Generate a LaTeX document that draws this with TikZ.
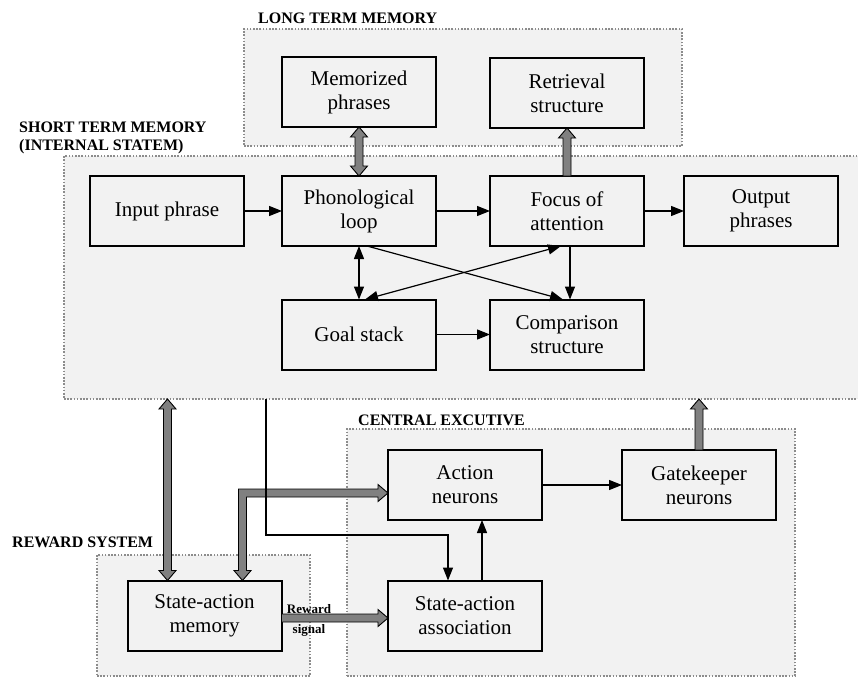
\documentclass[tikz,border=0pt]{standalone}
\usepackage{fontspec}
\setmainfont{Liberation Serif}
\usetikzlibrary{arrows.meta,calc,fit}
\definecolor{regfill}{RGB}{242,242,242}
\definecolor{regline}{RGB}{140,140,140}
\definecolor{fatgray}{RGB}{128,128,128}
\tikzset{
 region/.style={draw=regline, fill=regfill, line width=1.6pt, dash pattern=on 1.6pt off 1.6pt, inner sep=0pt, outer sep=0pt},
 box/.style={draw, fill=regfill, line width=2pt, minimum width=154pt, minimum height=70pt, align=center, font=\fontsize{21}{24}\selectfont, inner sep=0pt, outer sep=0pt},
 lbl/.style={font=\fontsize{16}{18}\selectfont\bfseries, anchor=base west, inner sep=0pt},
 rlbl/.style={font=\fontsize{13}{15}\selectfont\bfseries, anchor=base, inner sep=0pt},
 conn/.style={line width=1.2pt, -{Triangle[length=13pt,width=10pt]}},
 dconn/.style={line width=1.2pt, {Triangle[length=13pt,width=10pt]}-{Triangle[length=13pt,width=10pt]}},
 fat/.style={draw=black, fill=fatgray, line width=0.9pt, line join=miter},
}
% vertical double fat arrow: #1 upper point, #2 lower point
\newcommand{\fatvd}[2]{\draw[fat] let \p1=(#1), \p2=(#2) in
  (\x1,\y1) -- (\x1+8.5pt,\y1-10pt) -- (\x1+4pt,\y1-10pt) -- (\x1+4pt,\y2+10pt) -- (\x1+8.5pt,\y2+10pt)
  -- (\x1,\y2) -- (\x1-8.5pt,\y2+10pt) -- (\x1-4pt,\y2+10pt) -- (\x1-4pt,\y1-10pt) -- (\x1-8.5pt,\y1-10pt) -- cycle;}
% vertical single fat arrow: #1 lower start, #2 upper tip
\newcommand{\fatvu}[2]{\draw[fat] let \p1=(#1), \p2=(#2) in
  (\x2,\y2) -- (\x2+8.5pt,\y2-10pt) -- (\x2+4pt,\y2-10pt) -- (\x2+4pt,\y1) -- (\x2-4pt,\y1)
  -- (\x2-4pt,\y2-10pt) -- (\x2-8.5pt,\y2-10pt) -- cycle;}
% horizontal single fat arrow: #1 left start, #2 right tip
\newcommand{\fathr}[2]{\draw[fat] let \p1=(#1), \p2=(#2) in
  (\x2,\y2) -- (\x2-10pt,\y2+8.5pt) -- (\x2-10pt,\y2+4pt) -- (\x1,\y2+4pt) -- (\x1,\y2-4pt)
  -- (\x2-10pt,\y2-4pt) -- (\x2-10pt,\y2-8.5pt) -- cycle;}
\begin{document}
\begin{tikzpicture}[x=1pt,y=-1pt]
\clip (0,0) rectangle (858,678);
\fill[white] (0,0) rectangle (858,678);

% regions
\node[region, fit={(244,29)(682,146)}] (ltm) {};
\node[region, fit={(64,156)(872,399)}] (stm) {};
\node[region, fit={(347,429)(795,676)}] (ce) {};
\node[region, fit={(97,555)(310,676)}] (rs) {};

\node[lbl] (ltml) at (258,23) {LONG TERM MEMORY};
\node[lbl] (stml1) at (19,132) {SHORT TERM MEMORY};
\node[lbl] (stml2) at (19,150) {(INTERNAL STATEM)};
\node[lbl] (cel) at (358,425) {CENTRAL EXCUTIVE};
\node[lbl] (rsl) at (12,547) {REWARD SYSTEM};

% boxes
\node[box] (mem) at (359,92) {Memorized\\phrases};
\node[box] (ret) at (567,93) {Retrieval\\structure};
\node[box] (inp) at (167,211) {Input phrase};
\node[box] (phon) at (359,211) {Phonological\\loop};
\node[box] (foc) at (567,211) {Focus of\\attention};
\node[box] (out) at (761,211) {Output\\phrases};
\node[box] (goal) at (359,334.5) {Goal stack};
\node[box] (comp) at (567,334.5) {Comparison\\structure};
\node[box] (act) at (465,485) {Action\\neurons};
\node[box] (gate) at (699,485) {Gatekeeper\\neurons};
\node[box] (sam) at (204.5,615.5) {State-action\\memory};
\node[box] (saa) at (465,615.5) {State-action\\association};

% fat arrows
\fatvd{mem.south}{phon.north}
\fatvu{foc.north}{ret.south}
\coordinate (s1) at ([xshift=-37pt]sam.north);
\coordinate (s1top) at (s1 |- stm.south);
\fatvd{s1top}{s1}
\coordinate (gtop) at (gate.north |- stm.south);
\fatvu{gate.north}{gtop}
\fathr{[yshift=-2.5pt]sam.east}{[yshift=-2.5pt]saa.west}
\coordinate (e1) at ([xshift=38pt]sam.north);
\coordinate (e2) at ([yshift=-8pt]act.west);
\draw[fat] let \p1=(e1), \p2=(e2) in
  (\x1,\y1) -- (\x1-8.5pt,\y1+10pt) -- (\x1-4pt,\y1+10pt) -- (\x1-4pt,\y2+4pt) -- (\x2-10pt,\y2+4pt)
  -- (\x2-10pt,\y2+8.5pt) -- (\x2,\y2) -- (\x2-10pt,\y2-8.5pt) -- (\x2-10pt,\y2-4pt) -- (\x1+4pt,\y2-4pt)
  -- (\x1+4pt,\y1+10pt) -- (\x1+8.5pt,\y1+10pt) -- cycle;

\node[rlbl] (rw1) at (309,613) {Reward};
\node[rlbl] (rw2) at (309,633) {signal};

% thin arrows
\draw[conn] (inp.east) -- (phon.west);
\draw[conn] (phon.east) -- (foc.west);
\draw[conn] (foc.east) -- (out.west);
\draw[dconn] (phon.south) -- (goal.north);
\draw[conn] ([xshift=8pt]phon.south) -- ([xshift=-4pt]comp.north);
\draw[dconn] ([xshift=6pt]goal.north) -- ([xshift=-6pt]foc.south);
\draw[conn] ([xshift=3pt]foc.south) -- ([xshift=3pt]comp.north);
\draw[conn] (goal.east) -- (comp.west);
\draw[conn] (act.east) -- (gate.west);
\draw[conn] ([xshift=17pt]saa.north) -- ([xshift=17pt]act.south);
\coordinate (t1) at (266,399);
\coordinate (t3) at ([xshift=-17pt]saa.north);
\coordinate (t2) at (t3 |- 0,535);
\draw[conn] (t1) |- (t2) -- (t3);
\end{tikzpicture}
\end{document}
